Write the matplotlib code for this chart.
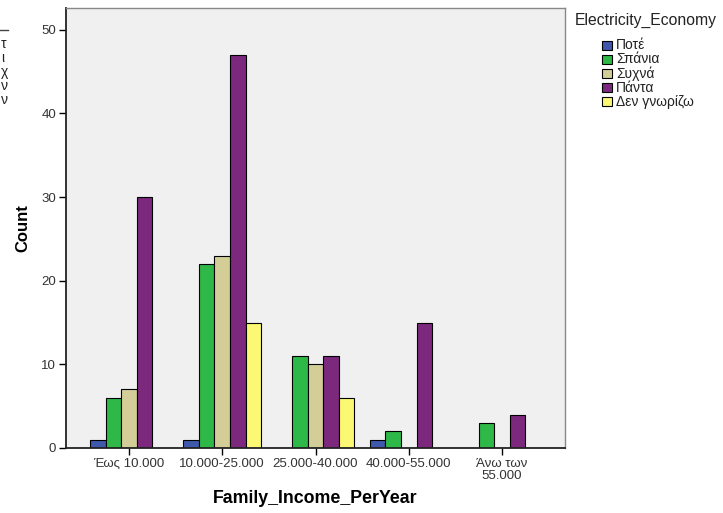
import numpy as np
import matplotlib.pyplot as plt
from matplotlib.patches import Rectangle

# data
categories = ['Έως 10.000', '10.000-25.000', '25.000-40.000', '40.000-55.000', 'Άνω των\n55.000']
series = ['Ποτέ', 'Σπάνια', 'Συχνά', 'Πάντα', 'Δεν γνωρίζω']
pote = [1, 1, 0, 1, 0]
spania = [6, 22, 11, 2, 3]
syxna = [7, 23, 10, 0, 0]
panta = [30, 47, 11, 15, 4]
den_gnorizo = [0, 15, 6, 0, 0]
colors = ['#3E58AC', '#2EB848', '#D3CE97', '#7C287D', '#FBF873']
yticks = [0, 10, 20, 30, 40, 50]
left_bits = ['τ', 'ι', 'χ', 'ν', 'ν']  # cut-off remnants at the left edge

values = [pote, spania, syxna, panta, den_gnorizo]

plt.rcParams['font.family'] = ['Liberation Sans', 'DejaVu Sans']

fig = plt.figure(figsize=(7.23, 5.13), dpi=100)
ax = fig.add_axes([66/723, 65/513, 499/723, 440/513])
ax.set_facecolor('#F0F0F0')

x = np.arange(len(categories))
w = 1/6
for i, (name, vals, c) in enumerate(zip(series, values, colors)):
    v = np.array(vals, dtype=float)
    m = v > 0
    ax.bar(x[m] + (i-2)*w, v[m], width=w, color=c, edgecolor='black', linewidth=0.8, label=name)

ax.set_xlim(-0.675, 4.675)
ax.set_ylim(0, 52.6)
ax.set_xticks(x)
ax.set_xticklabels(categories, fontsize=9.5, color='#333333', linespacing=1.0)
ax.set_yticks(yticks)
ax.set_yticklabels([str(t) for t in yticks], fontsize=9.5, color='#333333')
ax.tick_params(axis='both', direction='out', length=5, width=1, color='black', pad=2)

for s in ['left', 'bottom']:
    ax.spines[s].set_linewidth(1.3)
    ax.spines[s].set_color('#222222')
for s in ['top', 'right']:
    ax.spines[s].set_linewidth(1.0)
    ax.spines[s].set_color('#888888')

ax.set_xlabel('Family_Income_PerYear', fontsize=12.8, fontweight='bold', labelpad=6)
ax.set_ylabel('Count', fontsize=12, fontweight='bold', labelpad=8)

# legend outside on the right
fig.text(575/723, 1 - 20/513, 'Electricity_Economy', fontsize=11.3, color='#222222', va='center', ha='left')
for i, (name, c) in enumerate(zip(series, colors)):
    yc = 45 + i*14.2
    fig.add_artist(Rectangle((602/723, 1 - (yc+4.5)/513), 10/723, 9/513,
                             transform=fig.transFigure, facecolor=c, edgecolor='black', linewidth=0.8))
    fig.text(616/723, 1 - yc/513, name, fontsize=10, color='#222222', va='center', ha='left')

fig.add_artist(plt.Line2D([0, 8/723], [1 - 30/513, 1 - 30/513], transform=fig.transFigure, color='#444444', lw=1))
for i, t in enumerate(left_bits):
    fig.text(1/723, 1 - (44 + i*14)/513, t, fontsize=10, color='#222222', va='center', ha='left')

fig.savefig('out.png', dpi=100)
